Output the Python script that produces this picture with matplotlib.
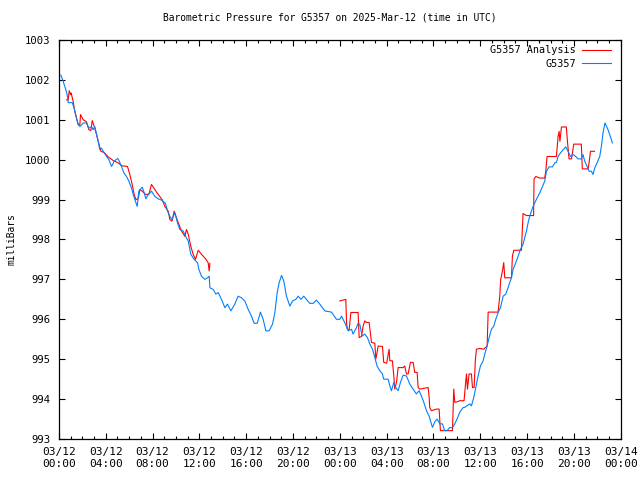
import datetime as dt

import matplotlib
matplotlib.use('Agg')
import matplotlib.pyplot as plt
import matplotlib.dates as mdates

# hours after 2025-03-12 00:00 UTC, pressure in mb
obs_hours = [0.17, 0.37, 0.6, 0.74, 0.8, 1.14, 1.31, 1.42, 1.65, 1.79, 2.08, 2.36,
             2.56, 2.79, 2.93, 3.07, 3.22, 3.36, 3.5, 3.64, 3.79, 4.07, 4.27, 4.5,
             4.72, 5.01, 5.1, 5.35, 5.55, 5.78, 5.98, 6.2, 6.35, 6.49, 6.69, 6.83,
             7.12, 7.29, 7.43, 7.63, 7.91, 8.2, 8.48, 8.82, 9.11, 9.28, 9.48, 9.66,
             9.91, 10.13, 10.33, 10.62, 10.82, 11.05, 11.27, 11.56, 11.84, 11.96,
             12.18, 12.47, 12.7, 12.84, 12.9, 13.18, 13.41, 13.61, 13.89, 14.18,
             14.4, 14.69, 15.03, 15.31, 15.6, 15.88, 16.17, 16.45, 16.68, 16.94,
             17.22, 17.45, 17.68, 17.96, 18.25, 18.45, 18.65, 18.82, 19.02, 19.21,
             19.44, 19.73, 19.96, 20.24, 20.44, 20.67, 20.92, 21.15, 21.43, 21.72,
             22.0, 22.29, 22.72, 23.29, 23.71, 24.0, 24.14, 24.34, 24.48, 24.71,
             25.0, 25.13, 25.42, 25.56, 25.7, 25.9, 26.13, 26.36, 26.56, 26.79,
             26.99, 27.18, 27.41, 27.64, 27.75, 28.12, 28.27, 28.41, 28.61, 28.78,
             28.98, 29.18, 29.41, 29.69, 29.97, 30.26, 30.54, 30.77, 30.97, 31.17,
             31.4, 31.62, 31.74, 31.91, 32.11, 32.31, 32.54, 32.76, 32.96, 33.16,
             33.39, 33.62, 33.82, 34.01, 34.24, 34.53, 34.64, 35.1, 35.24, 35.44,
             35.61, 35.81, 36.01, 36.24, 36.38, 36.58, 36.75, 36.95, 37.15, 37.32,
             37.52, 37.72, 37.95, 38.17, 38.37, 38.51, 38.66, 38.8, 39.03, 39.23,
             39.42, 39.65, 39.79, 39.94, 40.11, 40.22, 40.45, 40.65, 40.85, 41.08,
             41.31, 41.5, 41.65, 41.87, 42.16, 42.36, 42.5, 42.64, 42.85, 43.07,
             43.3, 43.5, 43.7, 43.92, 44.15, 44.35, 44.63, 44.77, 44.92, 45.12,
             45.29, 45.49, 45.63, 45.77, 45.97, 46.2, 46.34, 46.48, 46.65, 46.91,
             47.11, 47.28]
obs_mb = [1002.12, 1001.96, 1001.75, 1001.58, 1001.43, 1001.43, 1001.29, 1001.13,
          1000.88, 1000.83, 1000.92, 1000.92, 1000.79, 1000.83, 1000.75, 1000.83,
          1000.63, 1000.46, 1000.25, 1000.29, 1000.21, 1000.08, 1000.0, 999.83,
          999.96, 1000.03, 1000.0, 999.83, 999.67, 999.58, 999.46, 999.29, 999.13,
          999.0, 998.83, 999.21, 999.31, 999.17, 999.02, 999.13, 999.21, 999.08,
          999.02, 998.98, 998.9, 998.71, 998.58, 998.5, 998.67, 998.42, 998.25,
          998.21, 998.08, 997.96, 997.63, 997.5, 997.42, 997.25, 997.08, 997.0,
          997.04, 997.08, 996.79, 996.75, 996.63, 996.67, 996.5, 996.29, 996.38,
          996.21, 996.38, 996.58, 996.54, 996.46, 996.25, 996.08, 995.9, 995.9,
          996.18, 996.0, 995.71, 995.71, 995.88, 996.17, 996.67, 996.92, 997.1,
          996.96, 996.58, 996.33, 996.46, 996.5, 996.58, 996.5, 996.58, 996.5,
          996.4, 996.4, 996.48, 996.38, 996.21, 996.18, 996.0, 996.0, 996.08,
          995.96, 995.88, 995.71, 995.75, 995.63, 995.79, 995.9, 995.88, 995.58,
          995.63, 995.54, 995.38, 995.25, 995.04, 994.83, 994.71, 994.63, 994.5,
          994.5, 994.33, 994.21, 994.42, 994.29, 994.21, 994.42, 994.6, 994.58,
          994.38, 994.25, 994.13, 994.21, 994.08, 993.92, 993.71, 993.58, 993.46,
          993.29, 993.43, 993.5, 993.38, 993.38, 993.21, 993.21, 993.29, 993.28,
          993.38, 993.5, 993.67, 993.79, 993.79, 993.88, 993.83, 994.04, 994.29,
          994.58, 994.83, 994.96, 995.13, 995.33, 995.54, 995.75, 995.83, 996.0,
          996.17, 996.29, 996.58, 996.63, 996.79, 996.92, 997.04, 997.25, 997.42,
          997.58, 997.75, 997.88, 998.04, 998.21, 998.46, 998.58, 998.79, 998.92,
          999.04, 999.17, 999.33, 999.46, 999.71, 999.82, 999.82, 999.92, 999.93,
          1000.08, 1000.17, 1000.25, 1000.32, 1000.21, 1000.08, 1000.13, 1000.08,
          1000.02, 1000.02, 1000.13, 999.96, 999.83, 999.71, 999.71, 999.63,
          999.79, 999.92, 1000.08, 1000.33, 1000.67, 1000.92, 1000.75, 1000.58,
          1000.42]

ana_hours_1 = [0.66, 0.8, 0.88, 1.0, 1.05, 1.22, 1.31, 1.51, 1.65, 1.79, 1.85, 2.08,
               2.36, 2.56, 2.73, 2.85, 3.02, 3.22, 3.36, 3.59, 3.87, 4.21, 4.64,
               5.07, 5.35, 5.86, 6.06, 6.26, 6.43, 6.58, 6.77, 6.92, 7.12, 7.4,
               7.69, 7.91, 8.2, 8.48, 8.82, 9.05, 9.34, 9.48, 9.66, 9.85, 10.05,
               10.25, 10.48, 10.76, 10.9, 11.05, 11.27, 11.47, 11.67, 11.9, 12.18,
               12.52, 12.75, 12.84, 12.9]
ana_mb_1 = [1001.5, 1001.5, 1001.73, 1001.63, 1001.67, 1001.46, 1001.29, 1001.04,
            1000.88, 1000.88, 1001.13, 1001.0, 1000.95, 1000.75, 1000.73, 1000.98,
            1000.83, 1000.63, 1000.46, 1000.21, 1000.18, 1000.07, 999.98, 999.92,
            999.85, 999.83, 999.63, 999.38, 999.13, 999.0, 999.02, 999.25, 999.21,
            999.13, 999.13, 999.38, 999.25, 999.13, 999.0, 998.83, 998.71, 998.5,
            998.46, 998.71, 998.54, 998.38, 998.21, 998.08, 998.25, 998.13, 997.83,
            997.63, 997.5, 997.73, 997.63, 997.52, 997.42, 997.21, 997.4]

ana_hours_2 = [24.0, 24.51, 24.57, 24.65, 24.8, 24.94, 25.56, 25.65, 25.85, 25.99,
               26.13, 26.28, 26.5, 26.62, 26.7, 26.99, 27.07, 27.18, 27.27, 27.64,
               27.75, 28.0, 28.21, 28.27, 28.49, 28.61, 28.69, 28.84, 28.98, 29.41,
               29.55, 29.69, 29.83, 30.03, 30.26, 30.4, 30.6, 30.69, 30.83, 31.54,
               31.62, 31.68, 31.82, 32.25, 32.48, 32.59, 33.62, 33.73, 33.82, 34.01,
               34.24, 34.61, 34.76, 34.82, 34.9, 35.04, 35.24, 35.33, 35.47, 35.58,
               35.67, 35.96, 36.29, 36.58, 36.67, 37.52, 37.66, 37.74, 37.89, 38.0,
               38.09, 38.66, 38.74, 38.86, 39.51, 39.65, 39.94, 40.17, 40.55, 40.59,
               40.74, 41.08, 41.5, 41.59, 41.7, 42.5, 42.64, 42.73, 42.8, 42.93,
               43.35, 43.43, 43.58, 43.79, 43.87, 43.98, 44.63, 44.71, 45.2, 45.29,
               45.41, 45.75]
ana_mb_2 = [996.46, 996.5, 995.92, 995.75, 995.75, 996.17, 996.17, 995.54, 995.57,
            995.83, 995.96, 995.92, 995.92, 995.63, 995.42, 995.4, 995.0, 995.17,
            995.33, 995.32, 994.92, 994.9, 995.25, 994.96, 994.96, 994.58, 994.25,
            994.42, 994.79, 994.79, 994.83, 994.63, 994.63, 994.92, 994.92, 994.67,
            994.67, 994.29, 994.25, 994.29, 994.08, 993.79, 993.71, 993.75, 993.75,
            993.21, 993.21, 994.25, 993.92, 993.93, 993.96, 993.96, 994.46, 994.63,
            994.25, 994.63, 994.63, 994.29, 994.29, 995.0, 995.25, 995.27, 995.25,
            995.33, 996.18, 996.18, 996.58, 997.0, 997.21, 997.42, 997.04, 997.04,
            997.58, 997.73, 997.73, 998.65, 998.6, 998.6, 998.6, 999.52, 999.58,
            999.54, 999.54, 999.71, 1000.08, 1000.08, 1000.58, 1000.71, 1000.46,
            1000.82, 1000.82, 1000.5, 1000.02, 1000.02, 1000.17, 1000.39, 1000.39,
            999.77, 999.77, 999.92, 1000.21, 1000.21]

start = dt.datetime(2025, 3, 12)


def to_times(hours):
    return [start + dt.timedelta(hours=h) for h in hours]


plt.rcParams['font.family'] = 'DejaVu Sans Mono'
plt.rcParams['font.size'] = 8

fig = plt.figure(figsize=(6.4, 4.8), dpi=100)
ax = fig.add_axes([0.092, 0.0854, 0.878, 0.8313])

ax.plot(to_times(ana_hours_1), ana_mb_1, color='#ff0000', lw=0.8,
        label='G5357 Analysis')
ax.plot(to_times(ana_hours_2), ana_mb_2, color='#ff0000', lw=0.8)
ax.plot(to_times(obs_hours), obs_mb, color='#0080ff', lw=0.8, label='G5357')

ax.set_xlim(start, start + dt.timedelta(hours=48))
ax.set_ylim(993, 1003)
ax.set_yticks(range(993, 1004))
ax.xaxis.set_major_locator(mdates.HourLocator(byhour=range(0, 24, 4)))
ax.xaxis.set_minor_locator(mdates.HourLocator())
ax.xaxis.set_major_formatter(mdates.DateFormatter('%m/%d\n%H:%M'))

ax.tick_params(which='both', direction='in', top=True, right=True,
               width=0.8, labelsize=8)
ax.tick_params(axis='y', labelsize=7.6)
ax.tick_params(which='major', length=4, pad=6)
ax.tick_params(which='minor', length=2)
for s in ax.spines.values():
    s.set_linewidth(0.9)

ax.set_title('Barometric Pressure for G5357 on 2025-Mar-12 (time in UTC)',
             fontsize=6.9, pad=14, x=0.482)
ax.set_ylabel('milliBars', fontsize=6.9, labelpad=6)

ax.legend(loc='upper right', bbox_to_anchor=(0.992, 1.0), frameon=False,
          markerfirst=False, fontsize=7.3, handlelength=2.9,
          borderaxespad=0.1, labelspacing=0.35, handletextpad=0.6)

fig.savefig('out.png')
